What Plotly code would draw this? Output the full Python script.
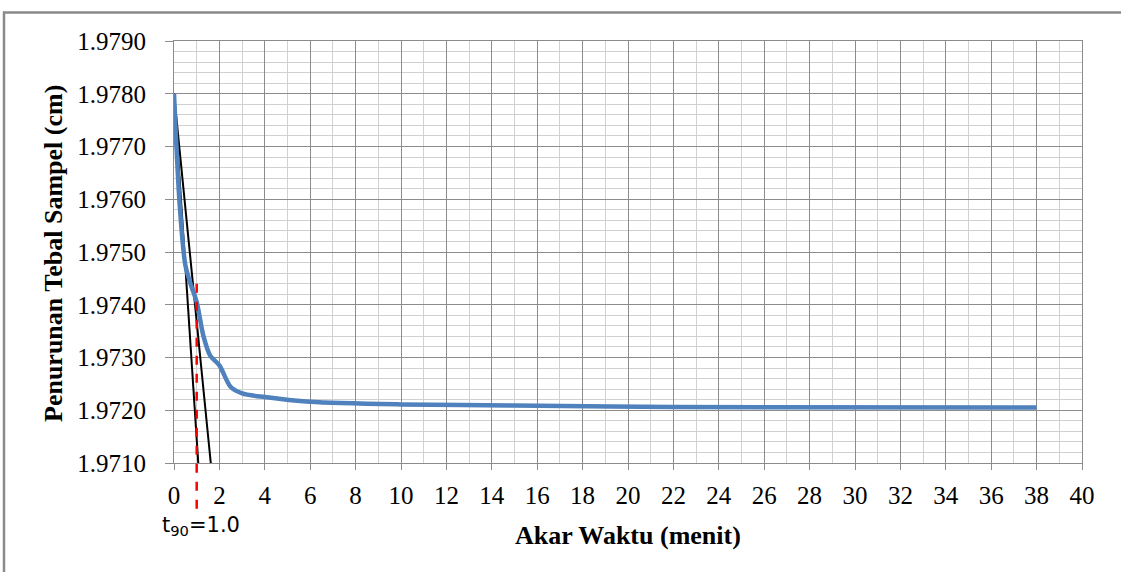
import plotly.graph_objects as go

# Data (square root of time in minutes vs sample thickness in cm)
akar_waktu = [0, 0.25, 0.5, 0.75, 1.0, 1.3, 1.6, 2.0, 2.5, 3.0, 4.0, 6.0, 10.0, 15.0, 22.0, 38.0]
tebal = [1.9780, 1.9759, 1.97475, 1.97437, 1.97405, 1.97340, 1.97303, 1.97285, 1.97244,
         1.97232, 1.97225, 1.97216, 1.97211, 1.97209, 1.97206, 1.97205]

garis1_x = [0, 1.07]
garis1_y = [1.9780, 1.9710]
garis2_x = [0, 1.62]
garis2_y = [1.9780, 1.9710]

t90 = 1.0
t90_top = 1.9744

x_ticks = list(range(0, 41, 2))

W, H = 1121, 572
L, R, T, B = 174, 39, 41, 109
pw, ph = W - L - R, H - T - B

def px_x(p):
    return (p - L) / pw

def px_y(p):
    return (H - B - p) / ph

fig = go.Figure()
fig.add_trace(go.Scatter(x=garis1_x, y=garis1_y, mode="lines",
                         line=dict(color="black", width=2), showlegend=False))
fig.add_trace(go.Scatter(x=garis2_x, y=garis2_y, mode="lines",
                         line=dict(color="black", width=2), showlegend=False))
fig.add_trace(go.Scatter(x=akar_waktu, y=tebal, mode="lines",
                         line=dict(color="#4F81BD", width=4.5, shape="spline", smoothing=0.8),
                         showlegend=False))

ymin, ymax = 1.9710, 1.9790
# red dashed t90 line (extends below the axis)
fig.add_shape(type="line", xref="x", yref="paper", x0=t90, x1=t90,
              y0=(t90_top - ymin) / (ymax - ymin), y1=px_y(517),
              line=dict(color="#FF0000", width=2.5, dash="dash"))

# outer chart frame
fig.add_shape(type="rect", xref="paper", yref="paper",
              x0=px_x(4), x1=2, y0=-2, y1=px_y(12.5),
              line=dict(color="#8A8A8A", width=2.5), layer="below")

serif = "Liberation Serif"
fig.add_annotation(text="t<sub>90</sub>=1.0", xref="paper", yref="paper",
                   x=px_x(160), y=px_y(526), xanchor="left", yanchor="middle",
                   showarrow=False, font=dict(family="DejaVu Sans", size=21, color="black"))
fig.add_annotation(text="<b>Akar Waktu (menit)</b>", xref="paper", yref="paper",
                   x=px_x(628), y=px_y(535), xanchor="center", yanchor="middle",
                   showarrow=False, font=dict(family=serif, size=26, color="black"))
fig.add_annotation(text="<b>Penurunan Tebal Sampel (cm)</b>", xref="paper", yref="paper",
                   x=px_x(53), y=px_y(253), xanchor="center", yanchor="middle", textangle=-90,
                   showarrow=False, font=dict(family=serif, size=26, color="black"))

fig.update_xaxes(range=[0, 40], tickvals=x_ticks, ticktext=[str(v) for v in x_ticks],
                 showgrid=True, gridcolor="#8C8C8C", gridwidth=1,
                 minor=dict(dtick=1, showgrid=True, gridcolor="#D0D0D0", gridwidth=1),
                 showline=True, linecolor="#8C8C8C", linewidth=1, mirror=True,
                 ticks="outside", ticklen=6, tickcolor="#8C8C8C",
                 tickfont=dict(family=serif, size=25, color="black"),
                 zeroline=False, ticklabelstandoff=4)
fig.update_yaxes(range=[ymin, ymax], dtick=0.001, tick0=1.9710, tickformat=".4f",
                 showgrid=True, gridcolor="#8C8C8C", gridwidth=1,
                 minor=dict(dtick=0.0002, tick0=1.9710, showgrid=True, gridcolor="#D0D0D0", gridwidth=1),
                 showline=True, linecolor="#8C8C8C", linewidth=1, mirror=True,
                 ticks="outside", ticklen=8, tickcolor="#8C8C8C",
                 tickfont=dict(family=serif, size=25, color="black"),
                 zeroline=False, ticklabelstandoff=14)

fig.update_layout(width=W, height=H, margin=dict(l=L, r=R, t=T, b=B),
                  plot_bgcolor="white", paper_bgcolor="white", showlegend=False)

fig.write_html("out.html")
